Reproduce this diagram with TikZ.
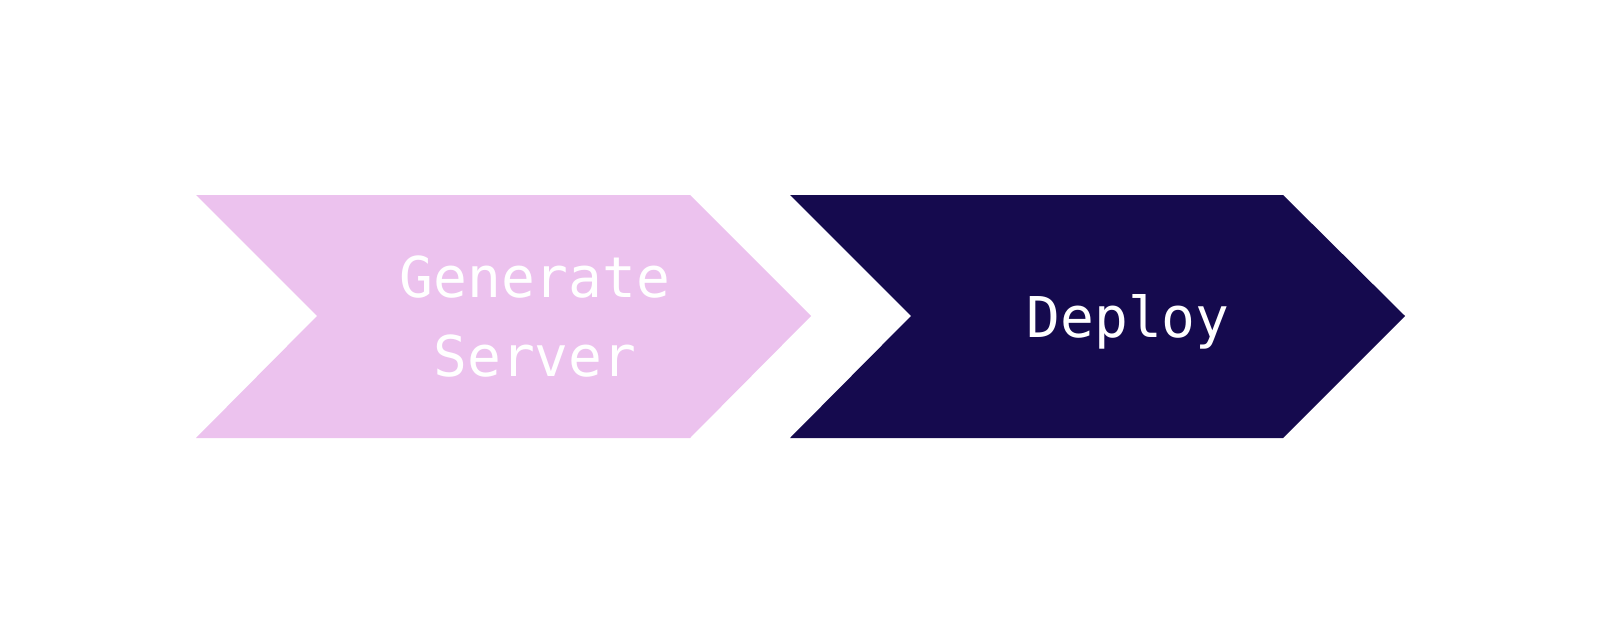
\documentclass[tikz,border=0pt]{standalone}
\usepackage{fontspec}
\setmonofont{DejaVu Sans Mono}
\definecolor{chevpink}{HTML}{ECC2EE}
\definecolor{chevnavy}{HTML}{150A4E}
\tikzset{
  steplabel/.style={text=white, align=center, font=\ttfamily\fontsize{32}{45}\selectfont}
}
\begin{document}
\begin{tikzpicture}[x = 0.02cm, y = -0.02cm]
	% Canvas
	\useasboundingbox (0, 0) rectangle (1600, 635);
	
	% Shapes
	\fill[chevpink] (196, 195) -- (690, 195) -- (811, 316) -- (690, 438) -- (196, 438) -- (317, 316) -- cycle;
	\fill[chevnavy] (790, 195) -- (1283, 195) -- (1405, 316) -- (1283, 438) -- (790, 438) -- (911, 316) -- cycle;
	
	% Nodes
	\node[steplabel] (gen) at (535, 317) {Generate\\Server};
	\node[steplabel] (deploy) at (1128, 322) {Deploy};
\end{tikzpicture}
\end{document}
